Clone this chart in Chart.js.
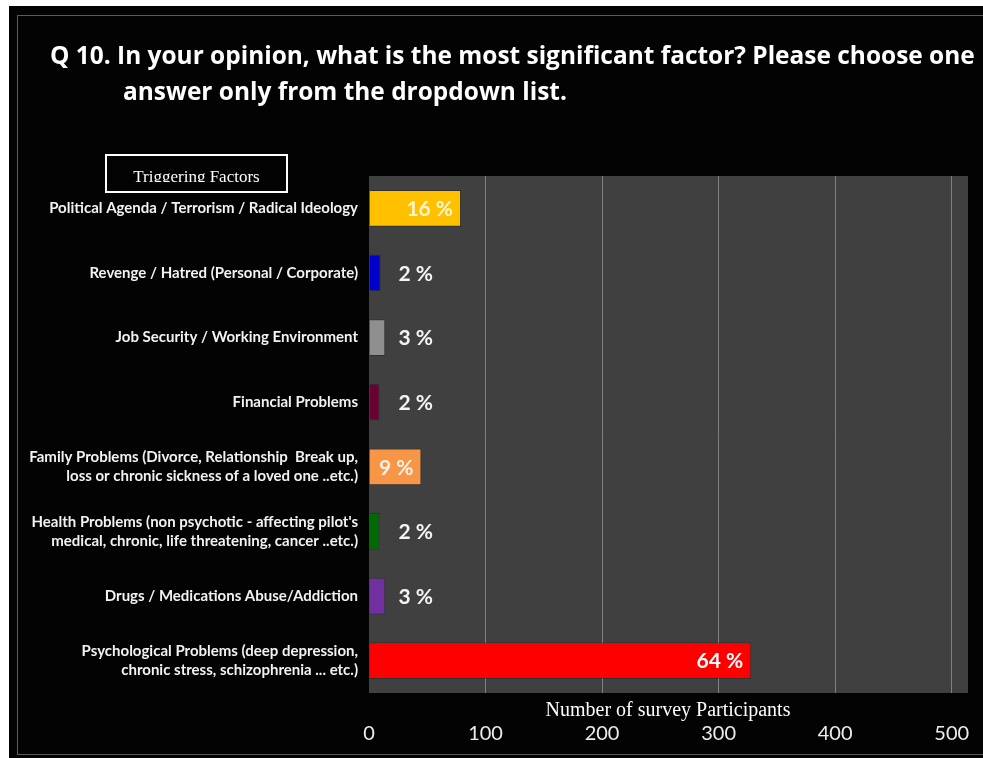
<!DOCTYPE html>
<html>
<head>
<meta charset="utf-8">
<script src="https://cdn.jsdelivr.net/npm/chart.js@4.4.1/dist/chart.umd.min.js"></script>
<style>
  html, body { margin: 0; padding: 0; background: #fff; overflow: hidden; }
  body { width: 983px; height: 758px; position: relative; }
  #frame { position: fixed; left: 9px; top: 6px; right: -10px; bottom: -10px; background: #030303; }
  #inner { position: absolute; left: 17px; top: 15px; width: 980px; height: 740px; border: 1px solid #5a5a5a;
           border-right: none; box-sizing: border-box; }
  .title { position: absolute; color: #fff; font-family: "Open Sans", sans-serif; font-weight: bold;
           font-size: 24px; line-height: 36px; white-space: nowrap; }
  #box { position: absolute; left: 105px; top: 154px; width: 183px; height: 39px; border: 2px solid #fff; box-sizing: border-box; }
  #boxText { position: absolute; left: 0; right: 0; top: 12px; height: 14px; overflow: hidden; text-align: center;
             color: #fff; font: 17px "Liberation Serif", serif; line-height: 17px; }
  #xTitle { position: absolute; left: 468px; top: 697px; width: 400px; text-align: center; color: #fff;
            font: 20px "Liberation Serif", serif; line-height: 24px; }
  canvas { position: absolute; left: 0; top: 0; }
</style>
</head>
<body>
<div id="frame"></div>
<div id="inner"></div>
<div class="title" id="t1" style="left:50px; top:37px;">Q 10. In your opinion, what is the most significant factor? Please choose one</div>
<div class="title" id="t2" style="left:123px; top:73px;">answer only from the dropdown list.</div>
<div id="box"><div id="boxText">Triggering Factors</div></div>
<canvas id="chart" width="983" height="758"></canvas>
<div id="xTitle">Number of survey Participants</div>
<script>
const categories = [
    'Political Agenda / Terrorism / Radical Ideology',
    'Revenge / Hatred (Personal / Corporate)',
    'Job Security / Working Environment',
    'Financial Problems',
    ['Family Problems (Divorce, Relationship  Break up,', 'loss or chronic sickness of a loved one ..etc.)'],
    ["Health Problems (non psychotic - affecting pilot's", 'medical, chronic, life threatening, cancer ..etc.)'],
    'Drugs / Medications Abuse/Addiction',
    ['Psychological Problems (deep depression,', 'chronic stress, schizophrenia ... etc.)']
];
const participants = [79, 10, 14, 9, 45, 9, 14, 328];
const percentLabels = ['16 %', '2 %', '3 %', '2 %', '9 %', '2 %', '3 %', '64 %'];
const barColors = ['#FFC000', '#0000CC', '#8F8F8F', '#6B0033', '#F79646', '#006B00', '#7030A0', '#FF0000'];
const xTicks = [0, 100, 200, 300, 400, 500];

// title line 1 spans x 50..975 in the original, size the font to that
const t1 = document.getElementById('t1');
const t2 = document.getElementById('t2');
const fitSize = 24 * 925 / t1.getBoundingClientRect().width;
t1.style.fontSize = fitSize + 'px';
t2.style.fontSize = fitSize + 'px';

const plotBackground = {
    id: 'plotBackground',
    beforeDraw(chart) {
        const { ctx, chartArea: a } = chart;
        ctx.save();
        ctx.fillStyle = '#404040';
        ctx.fillRect(a.left, a.top, a.right - a.left, a.bottom - a.top);
        ctx.restore();
    }
};

const percentText = {
    id: 'percentText',
    afterDatasetsDraw(chart) {
        const ctx = chart.ctx;
        const meta = chart.getDatasetMeta(0);
        ctx.save();
        ctx.font = 'bold 21px Lato, sans-serif';
        ctx.textBaseline = 'middle';
        meta.data.forEach((bar, i) => {
            const w = bar.x - bar.base;
            if (w > 40) {
                ctx.textAlign = 'right';
                ctx.fillStyle = i === 0 ? '#FFF6D0' : (i === 4 ? '#FFF2E4' : '#ffffff');
                ctx.fillText(percentLabels[i], bar.x - 8, bar.y + 1);
            } else {
                ctx.textAlign = 'left';
                ctx.fillStyle = '#f4f4f4';
                ctx.fillText(percentLabels[i], bar.base + 29, bar.y + 1);
            }
        });
        ctx.restore();
    }
};

new Chart(document.getElementById('chart'), {
    type: 'bar',
    data: {
        labels: categories,
        datasets: [{
            data: participants,
            backgroundColor: barColors,
            borderColor: 'rgba(0,0,0,0.25)',
            borderWidth: 1,
            barPercentage: 0.57,
            categoryPercentage: 1
        }]
    },
    options: {
        indexAxis: 'y',
        responsive: false,
        devicePixelRatio: 1,
        animation: false,
        layout: { padding: { top: 176, right: 15, bottom: 0, left: 0 } },
        plugins: { legend: { display: false }, tooltip: { enabled: false } },
        scales: {
            x: {
                min: 0,
                max: 514,
                afterFit(scale) {
                    scale.height = 65;
                    scale.paddingLeft = 0;
                    scale.paddingRight = 0;
                },
                afterBuildTicks(scale) {
                    scale.ticks = xTicks.map(v => ({ value: v }));
                },
                border: { display: false },
                grid: {
                    drawTicks: false,
                    color: ctx => (ctx.tick && ctx.tick.value === 0) ? 'rgba(0,0,0,0)' : '#808080',
                    lineWidth: 1
                },
                ticks: {
                    padding: 29,
                    color: '#ececec',
                    font: { family: 'Lato', size: 20 }
                }
            },
            y: {
                afterFit(scale) { scale.width = 369; },
                border: { display: false },
                grid: { display: false, drawTicks: false },
                ticks: {
                    padding: 11,
                    color: '#f2f2f2',
                    font: { family: 'Lato', size: 15, weight: 'bold', lineHeight: 1.27 }
                }
            }
        }
    },
    plugins: [plotBackground, percentText]
});
</script>
</body>
</html>
